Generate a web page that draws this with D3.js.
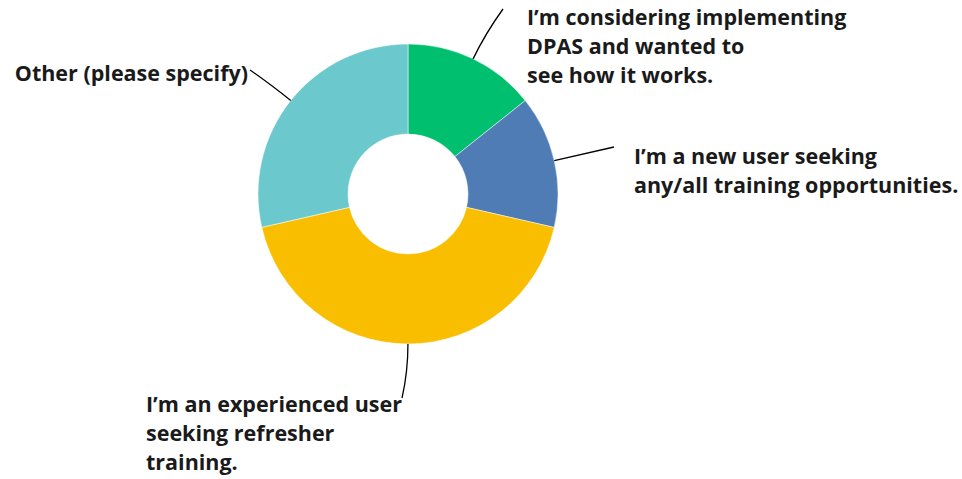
<!DOCTYPE html>
<html><head><meta charset="utf-8">
<script src="https://cdn.jsdelivr.net/npm/d3@7"></script>
<style>body{margin:0;background:#fff}svg{display:block}</style>
</head><body>
<svg id="c" width="962" height="479"></svg>
<script>
const categories = [
  "I’m considering implementing DPAS and wanted to see how it works.",
  "I’m a new user seeking any/all training opportunities.",
  "I’m an experienced user seeking refresher training.",
  "Other (please specify)"
];
const labelLines = [
  ["I’m considering implementing", "DPAS and wanted to", "see how it works."],
  ["I’m a new user seeking", "any/all training opportunities."],
  ["I’m an experienced user", "seeking refresher", "training."],
  ["Other (please specify)"]
];
const values = [14.29, 14.29, 42.86, 28.57];
const colors = ["#00bf6f", "#507cb6", "#f9be00", "#6bc8cd"];

// layout (label anchors, not data)
const layout = [
  {end:[503,9],  tx:527, ty:25,  anchor:"start"},
  {end:[614,147], tx:634, ty:164, anchor:"start"},
  {end:[402,398], tx:146, ty:412, anchor:"start"},
  {end:[250,70], tx:248, ty:81,  anchor:"end"}
];

const svg = d3.select("#c");
const cx = 408, cy = 194, R = 150, r0 = 60;
const g = svg.append("g").attr("transform", `translate(${cx},${cy})`);
const pie = d3.pie().sort(null).value(d => d)(values);
const arc = d3.arc().innerRadius(r0).outerRadius(R);
g.selectAll("path.s").data(pie).join("path").attr("class","s")
  .attr("d", arc).attr("fill", (d,i) => colors[i])
  .attr("stroke", "#fff").attr("stroke-width", 0.5);

pie.forEach((d,i) => {
  const a = (d.startAngle + d.endAngle)/2;
  const sx = cx + R*Math.sin(a), sy = cy - R*Math.cos(a);
  const kx = cx + (R+28)*Math.sin(a), ky = cy - (R+28)*Math.cos(a);
  const p = d3.path();
  p.moveTo(sx, sy);
  p.quadraticCurveTo(kx, ky, layout[i].end[0], layout[i].end[1]);
  svg.append("path").attr("d", p.toString()).attr("fill","none")
    .attr("stroke","#000").attr("stroke-width",1.3);
  const t = svg.append("text")
    .attr("x", layout[i].tx).attr("y", layout[i].ty)
    .attr("text-anchor", layout[i].anchor)
    .attr("font-family", "'Open Sans', sans-serif")
    .attr("font-weight", 700).attr("font-size", 21.5).attr("fill", "#1a1a1a");
  labelLines[i].forEach((ln, j) => {
    t.append("tspan").attr("x", layout[i].tx).attr("dy", j ? 29 : 0).text(ln);
  });
});
</script>
</body></html>
